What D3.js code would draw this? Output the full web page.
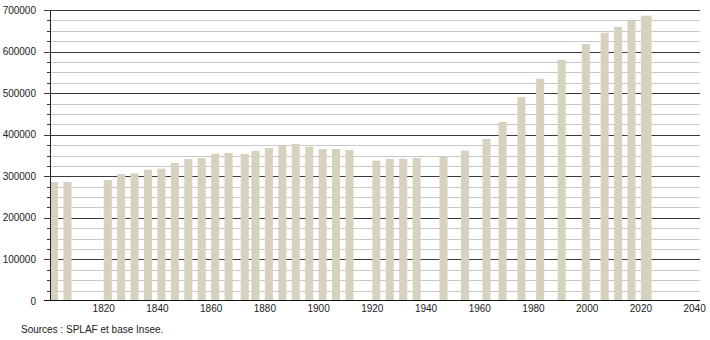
<!DOCTYPE html>
<html>
<head>
<meta charset="utf-8">
<script src="https://cdn.jsdelivr.net/npm/d3@7/dist/d3.min.js"></script>
<style>
  html, body { margin: 0; padding: 0; background: #fff; }
  svg { display: block; font-family: "Liberation Sans", Arial, sans-serif; }
</style>
</head>
<body>
<svg id="chart" width="710" height="340"></svg>
<script>
// Census years and population
const years = [1801, 1806, 1821, 1826, 1831, 1836, 1841, 1846, 1851, 1856, 1861, 1866,
  1872, 1876, 1881, 1886, 1891, 1896, 1901, 1906, 1911, 1921, 1926, 1931, 1936,
  1946, 1954, 1962, 1968, 1975, 1982, 1990, 1999, 2006, 2011, 2016, 2021, 2022];
const population = [286000, 286500, 291000, 305500, 307000, 315800, 318200, 332000,
  341600, 344000, 354300, 356000, 353600, 360800, 368000, 373600, 377700, 371200,
  365600, 365600, 363200, 337500, 341600, 342300, 344000, 346500, 361500, 389700,
  430600, 490500, 534500, 580000, 618100, 645300, 659600, 673500, 685500, 686300];
const xTickLabels = [1820, 1840, 1860, 1880, 1900, 1920, 1940, 1960, 1980, 2000, 2020, 2040];
const yTickLabels = [0, 100000, 200000, 300000, 400000, 500000, 600000, 700000];
const sourceText = "Sources : SPLAF et base Insee.";

const svg = d3.select("#chart");
const mLeft = 50, mRight = 700, mTop = 10, mBottom = 301;

const x = d3.scaleLinear().domain([1800, 2042]).range([mLeft, mRight]);
const y = d3.scaleLinear().domain([0, 700000]).range([mBottom, mTop]);

// minor gridlines every 25000
const minor = d3.range(25000, 700000, 25000).filter(v => v % 100000 !== 0);
svg.append("g").selectAll("line").data(minor).join("line")
  .attr("x1", mLeft).attr("x2", mRight)
  .attr("y1", d => Math.round(y(d)) + 0.5).attr("y2", d => Math.round(y(d)) + 0.5)
  .attr("stroke", "#c8c8c8").attr("stroke-width", 1);
// minor ticks
svg.append("g").selectAll("line").data(minor).join("line")
  .attr("x1", mLeft - 3).attr("x2", mLeft)
  .attr("y1", d => Math.round(y(d)) + 0.5).attr("y2", d => Math.round(y(d)) + 0.5)
  .attr("stroke", "#333").attr("stroke-width", 1);

// major gridlines
const majors = yTickLabels.filter(v => v > 0);
svg.append("g").selectAll("line").data(majors).join("line")
  .attr("x1", mLeft - 6).attr("x2", mRight)
  .attr("y1", d => Math.round(y(d)) + 0.5).attr("y2", d => Math.round(y(d)) + 0.5)
  .attr("stroke", "#3a3a3a").attr("stroke-width", 1);

// bars drawn over the gridlines
const barStart = -1, barSpan = 3;
svg.append("g").selectAll("rect").data(years.map((yr, i) => ({yr, v: population[i]})))
  .join("rect")
  .attr("x", d => x(d.yr + barStart))
  .attr("width", d => x(d.yr + barStart + barSpan) - x(d.yr + barStart))
  .attr("y", d => y(d.v))
  .attr("height", d => y(0) - y(d.v))
  .attr("fill", "#d6d2bf");

// axes lines
svg.append("line")
  .attr("x1", mLeft + 0.5).attr("x2", mLeft + 0.5)
  .attr("y1", mTop).attr("y2", mBottom)
  .attr("stroke", "#222");
svg.append("line")
  .attr("x1", mLeft - 6).attr("x2", mRight)
  .attr("y1", mBottom - 0.5).attr("y2", mBottom - 0.5)
  .attr("stroke", "#111");

// y labels
svg.append("g").selectAll("text").data(yTickLabels).join("text")
  .attr("x", 36).attr("y", d => y(d) + 3.5)
  .attr("text-anchor", "end")
  .attr("font-size", 10).attr("fill", "#222")
  .text(d => d);

// x labels
svg.append("g").selectAll("text").data(xTickLabels).join("text")
  .attr("x", d => x(d)).attr("y", 312)
  .attr("text-anchor", "middle")
  .attr("font-size", 10).attr("fill", "#222")
  .text(d => d);

svg.append("text")
  .attr("x", 21).attr("y", 333)
  .attr("font-size", 10).attr("fill", "#222")
  .text(sourceText);
</script>
</body>
</html>
